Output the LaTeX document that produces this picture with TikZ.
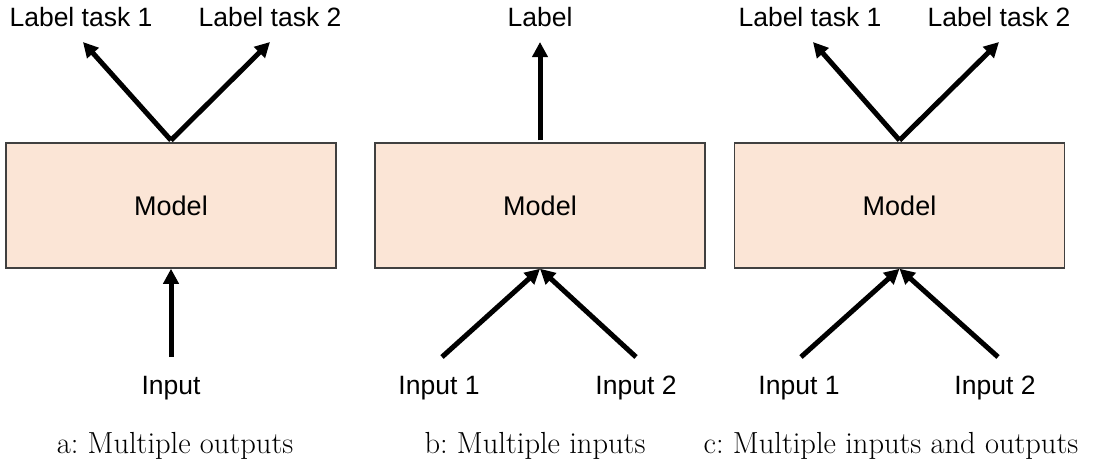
\documentclass[tikz,border=0pt]{standalone}
\usepackage{fontspec}
\setsansfont{Liberation Sans}
\usetikzlibrary{arrows.meta}
\definecolor{modelfill}{HTML}{FBE5D6}
\definecolor{modeledge}{HTML}{404040}
\tikzset{
  modelbox/.style={draw=modeledge, line width=1.5pt, fill=modelfill,
    minimum width=330pt, minimum height=125pt, inner sep=0pt,
    font=\sffamily\fontsize{27}{30}\selectfont},
  tag/.style={inner sep=0pt, anchor=base, font=\sffamily\fontsize{26.5}{30}\selectfont},
  caption/.style={inner sep=0pt, anchor=base, font=\fontsize{30.5}{34}\selectfont},
  flow/.style={line width=5pt, -{Triangle[length=15pt,width=15pt]}}
}
\begin{document}
\begin{tikzpicture}[x=1pt,y=-1pt]
\useasboundingbox (0,0) rectangle (1105,471);

% (a) one input, two outputs
\node[modelbox] (ma) at (171,205.5) {Model};
\node[tag] (la1) at (81,27) {Label task 1};
\node[tag] (la2) at (270,27) {Label task 2};
\node[tag] (ia) at (171,394) {Input};
\coordinate (ta1) at (83,42);
\coordinate (ta2) at (270,42);
\coordinate (sa) at (171,357);
\draw[flow] ([yshift=2pt]ma.north) -- (ta1);
\draw[flow] ([yshift=2pt]ma.north) -- (ta2);
\draw[flow] (sa) -- (ma.south);
\node[caption] (ca) at (175,453) {a:\ Multiple outputs};

% (b) two inputs, one output
\node[modelbox] (mb) at (540,205.5) {Model};
\node[tag] (lb) at (540,27) {Label};
\node[tag] (ib1) at (439,394) {Input 1};
\node[tag] (ib2) at (636,394) {Input 2};
\coordinate (tb) at (540,42);
\coordinate (sb1) at (442,357);
\coordinate (sb2) at (636,357);
\draw[flow] ([yshift=2pt]mb.north) -- (tb);
\draw[flow] (sb1) -- (mb.south);
\draw[flow] (sb2) -- (mb.south);
\node[caption] (cb) at (535,453) {b:\ Multiple inputs};

% (c) two inputs, two outputs
\node[modelbox] (mc) at (899.5,205.5) {Model};
\node[tag] (lc1) at (810,27) {Label task 1};
\node[tag] (lc2) at (999,27) {Label task 2};
\node[tag] (ic1) at (799,394) {Input 1};
\node[tag] (ic2) at (995,394) {Input 2};
\coordinate (tc1) at (813,42);
\coordinate (tc2) at (999,42);
\coordinate (sc1) at (801,357);
\coordinate (sc2) at (998,357);
\draw[flow] ([yshift=2pt]mc.north) -- (tc1);
\draw[flow] ([yshift=2pt]mc.north) -- (tc2);
\draw[flow] (sc1) -- (mc.south);
\draw[flow] (sc2) -- (mc.south);
\node[caption] (cc) at (891,453) {c:\ Multiple inputs and outputs};
\end{tikzpicture}
\end{document}
